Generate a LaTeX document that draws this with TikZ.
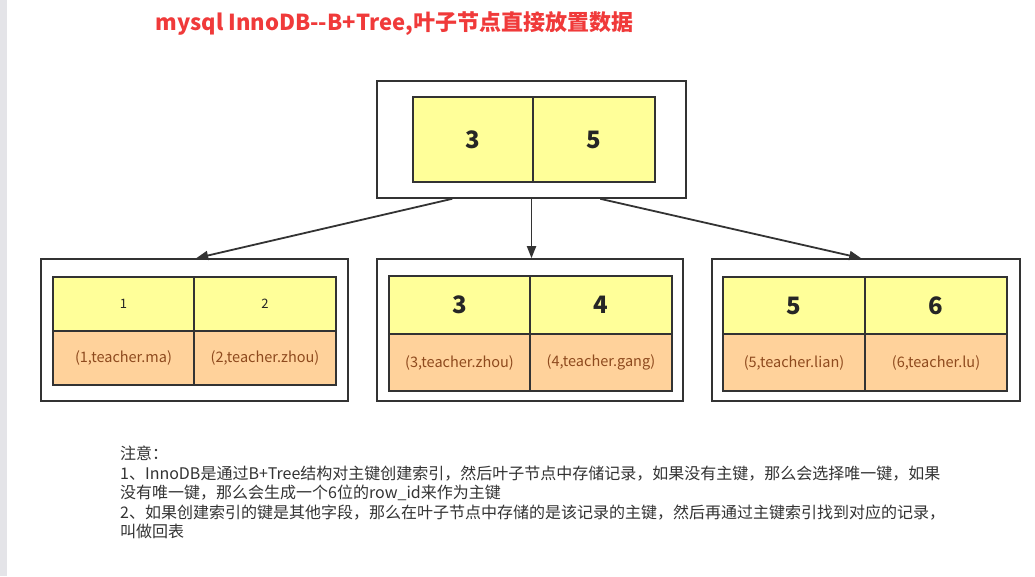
\documentclass[tikz,border=0pt]{standalone}
\usepackage{fontspec}
\setmainfont{Noto Sans CJK SC}
\usetikzlibrary{arrows.meta}
\definecolor{edge}{HTML}{333333}
\definecolor{keyfill}{HTML}{FFFF99}
\definecolor{recfill}{HTML}{FFD29B}
\definecolor{rectext}{HTML}{8E4A1E}
\definecolor{titlered}{HTML}{F03A3A}
\definecolor{notetext}{HTML}{333333}
\definecolor{strip}{HTML}{E4E4E8}
\tikzset{
  outerbox/.style={draw=edge, line width=1.6pt, fill=white, inner sep=0pt},
  keycell/.style={draw=edge, line width=1.6pt, fill=keyfill, inner sep=0pt, text=black!85},
  reccell/.style={draw=edge, line width=1.6pt, fill=recfill, inner sep=0pt, text=rectext, font=\fontsize{14.5}{16}\selectfont},
  bignum/.style={font=\fontsize{24}{26}\selectfont\bfseries},
  smallnum/.style={font=\fontsize{13}{15}\selectfont},
  arr/.style={draw=edge, line width=1.8pt, -{Triangle[length=12pt,width=9pt]}}
}
\begin{document}
\begin{tikzpicture}[x=1pt,y=-1pt]
\useasboundingbox (0,0) rectangle (1035,576);
\fill[white] (0,0) rectangle (1035,576);
\fill[strip] (0,0) rectangle (7,576);
% title
\node[text=titlered, font=\fontsize{22}{24}\selectfont\bfseries, anchor=west] (title) at (152,24) {mysql InnoDB{-}{-}B+Tree,叶子节点直接放置数据};
% root
\node[outerbox, minimum width=309pt, minimum height=117pt] (root) at (531.5,139.5) {};
\node[keycell, bignum, minimum width=120pt, minimum height=85pt] (r1) at (473,139.5) {3};
\node[keycell, bignum, minimum width=122pt, minimum height=85pt] (r2) at (594,139.5) {5};
% leaf 1
\node[outerbox, minimum width=307pt, minimum height=142pt] (l1) at (194.5,330) {};
\node[keycell, smallnum, minimum width=141pt, minimum height=54pt] (l1k1) at (123.5,304) {1};
\node[keycell, smallnum, minimum width=142pt, minimum height=54pt] (l1k2) at (265,304) {2};
\node[reccell, minimum width=141pt, minimum height=54pt] (l1r1) at (123.5,358) {(1,teacher.ma)};
\node[reccell, minimum width=142pt, minimum height=54pt] (l1r2) at (265,358) {(2,teacher.zhou)};
% leaf 2
\node[outerbox, minimum width=306pt, minimum height=142pt] (l2) at (530,330) {};
\node[keycell, bignum, minimum width=141pt, minimum height=58pt] (l2k1) at (459.5,305) {3};
\node[keycell, bignum, minimum width=142pt, minimum height=58pt] (l2k2) at (601,305) {4};
\node[reccell, minimum width=141pt, minimum height=57pt] (l2r1) at (459.5,362.5) {(3,teacher.zhou)};
\node[reccell, minimum width=142pt, minimum height=57pt] (l2r2) at (601,362.5) {(4,teacher.gang)};
% leaf 3
\node[outerbox, minimum width=308pt, minimum height=142pt] (l3) at (866,330) {};
\node[keycell, bignum, minimum width=142pt, minimum height=57pt] (l3k1) at (794,305.5) {5};
\node[keycell, bignum, minimum width=142pt, minimum height=57pt] (l3k2) at (936,305.5) {6};
\node[reccell, minimum width=142pt, minimum height=57pt] (l3r1) at (794,362.5) {(5,teacher.lian)};
\node[reccell, minimum width=142pt, minimum height=57pt] (l3r2) at (936,362.5) {(6,teacher.lu)};
% arrows
\draw[arr] ([xshift=76pt]root.south west) -- ([xshift=156pt]l1.north west);
\draw[arr] (root.south) -- (root.south |- l2.north);
\draw[arr] ([xshift=224pt]root.south west) -- ([xshift=150pt]l3.north west);
% note
\node[anchor=north west, align=left, text=notetext, inner sep=0pt,
      font=\fontsize{16}{19.5}\selectfont] (note) at (120,446) {注意：\\
1、InnoDB是通过B+Tree结构对主键创建索引，然后叶子节点中存储记录，如果没有主键，那么会选择唯一键，如果\\
没有唯一键，那么会生成一个6位的row\_id来作为主键\\
2、如果创建索引的键是其他字段，那么在叶子节点中存储的是该记录的主键，然后再通过主键索引找到对应的记录，\\
叫做回表};
\end{tikzpicture}
\end{document}
